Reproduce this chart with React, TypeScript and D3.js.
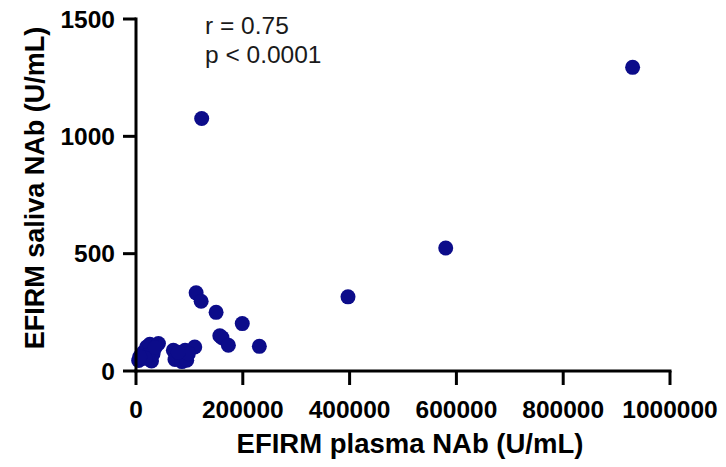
import React from "react";
import * as d3 from "d3";

const plasma = [5000, 14000, 20000, 26000, 42000, 29000, 32000, 22000, 17000, 36000, 7000,
  70000, 73000, 86000, 95000, 92000, 110000, 98000, 79000,
  112600, 122000, 150000, 199000, 161000, 157000, 173000, 231000,
  397000, 580000, 930000, 123000];
const saliva = [45, 80, 102, 114, 117, 43, 74, 67, 54, 100, 60,
  88, 49, 40, 46, 88, 102, 74, 80,
  333, 297, 250, 202, 142, 150, 110, 105,
  316, 524, 1294, 1076];
const xTicks = [0, 200000, 400000, 600000, 800000, 1000000];
const yTicks = [0, 500, 1000, 1500];
const xTitle = "EFIRM plasma NAb (U/mL)";
const yTitle = "EFIRM saliva NAb (U/mL)";
const notes = ["r = 0.75", "p < 0.0001"];

export default function App() {
  const W = 726, H = 467;
  const x = d3.scaleLinear().domain([0, 1000000]).range([136, 670]);
  const y = d3.scaleLinear().domain([0, 1500]).range([371, 19]);
  const font = "Arial, 'Liberation Sans', Helvetica, sans-serif";
  const color = "#0c0c8a";
  return (
    <svg width={W} height={H} style={{ position: "absolute", left: 0, top: 0, background: "#fff" }} fontFamily={font}>
      {plasma.map((v, i) => (
        <circle key={i} cx={x(v)} cy={y(saliva[i])} r={7.5} fill={color} />
      ))}
      <line x1={x(0)} x2={x(0)} y1={y(1500) - 1.5} y2={y(0) + 1.5} stroke="#000" strokeWidth={3} />
      <line x1={x(0) - 1.5} x2={x(1000000) + 1.5} y1={y(0)} y2={y(0)} stroke="#000" strokeWidth={3} />
      {yTicks.map((t) => (
        <g key={t}>
          <line x1={x(0) - 13} x2={x(0)} y1={y(t)} y2={y(t)} stroke="#000" strokeWidth={3} />
          <text x={x(0) - 21} y={y(t)} dy="0.36em" textAnchor="end" fontWeight="bold" fontSize={24.5}>{t}</text>
        </g>
      ))}
      {xTicks.map((t) => (
        <g key={t}>
          <line x1={x(t)} x2={x(t)} y1={y(0)} y2={y(0) + 14} stroke="#000" strokeWidth={3} />
          <text x={x(t)} y={418} textAnchor="middle" fontWeight="bold" fontSize={24.5}>{t}</text>
        </g>
      ))}
      <text x={(x(0) + x(1000000)) / 2 + 7} y={453} textAnchor="middle" fontWeight="bold" fontSize={27.5}>{xTitle}</text>
      <text transform={`translate(44, 188) rotate(-90)`} textAnchor="middle" fontWeight="bold" fontSize={27}>{yTitle}</text>
      {notes.map((n, i) => (
        <text key={n} x={205} y={34 + i * 29} fontSize={24.5} fill="#1a1a1a">{n}</text>
      ))}
    </svg>
  );
}
